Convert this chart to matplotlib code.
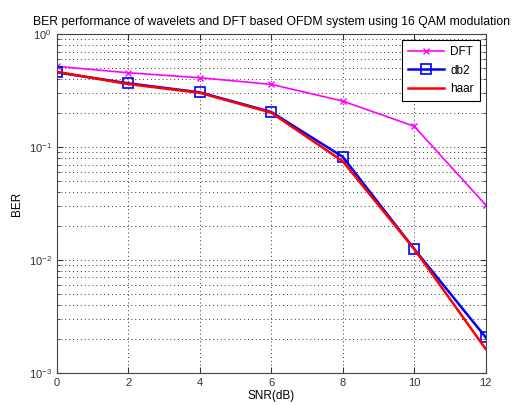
import matplotlib
matplotlib.use("Agg")
import matplotlib.pyplot as plt
from matplotlib.ticker import LogLocator, NullFormatter

plt.rcParams['font.family'] = ['Liberation Sans', 'DejaVu Sans']

snr = [0, 2, 4, 6, 8, 10, 12]
ber_dft = [0.52, 0.456, 0.412, 0.36, 0.256, 0.153, 0.0307]
ber_db2 = [0.46, 0.368, 0.306, 0.205, 0.082, 0.0125, 0.00206]
ber_haar = [0.465, 0.362, 0.303, 0.202, 0.075, 0.0125, 0.00162]

fig = plt.figure(figsize=(5.18, 4.05), dpi=100)
ax = fig.add_axes([0.1095, 0.0798, 0.8281, 0.8355])

ax.semilogy(snr, ber_dft, color='#ff00ff', marker='x', markersize=4, linewidth=1.2, label='DFT')
ax.semilogy(snr, ber_db2, color='#0000ff', marker='s', markersize=6.5, markerfacecolor='none',
            markeredgewidth=1.2, linewidth=1.8, label='db2')
ax.semilogy(snr, ber_haar, color='#ff0000', linewidth=1.8, label='haar')

ax.set_xlim(0, 12)
ax.set_ylim(1e-3, 1)
ax.set_xticks(snr)
ax.yaxis.set_major_locator(LogLocator(base=10, numticks=10))
ax.yaxis.set_minor_locator(LogLocator(base=10, subs=range(2, 10), numticks=20))
ax.yaxis.set_minor_formatter(NullFormatter())

gstyle = dict(linestyle=(0, (1, 3)), color='#333333', linewidth=0.7)
ax.grid(True, which='major', **gstyle)
ax.grid(True, which='minor', axis='y', **gstyle)

ax.tick_params(direction='in', top=True, right=True, labelsize=8, which='both', colors='#333333')
ax.tick_params(which='major', length=4)
ax.tick_params(which='minor', length=2)
for s in ax.spines.values():
    s.set_color('#444444')

ax.set_xlabel('SNR(dB)', fontsize=8.5, labelpad=2)
ax.set_ylabel('BER', fontsize=8.5, labelpad=4)
ax.set_title('BER performance of wavelets and DFT based OFDM system using 16 QAM modulation',
             fontsize=8.8, pad=7)

leg = ax.legend(loc='upper right', fontsize=8.5, fancybox=False, framealpha=1,
                edgecolor='black', borderaxespad=0.5, handlelength=3.1,
                handletextpad=0.5, labelspacing=0.55, borderpad=0.5)
leg.get_frame().set_linewidth(0.8)

fig.savefig('out.png', dpi=100)
